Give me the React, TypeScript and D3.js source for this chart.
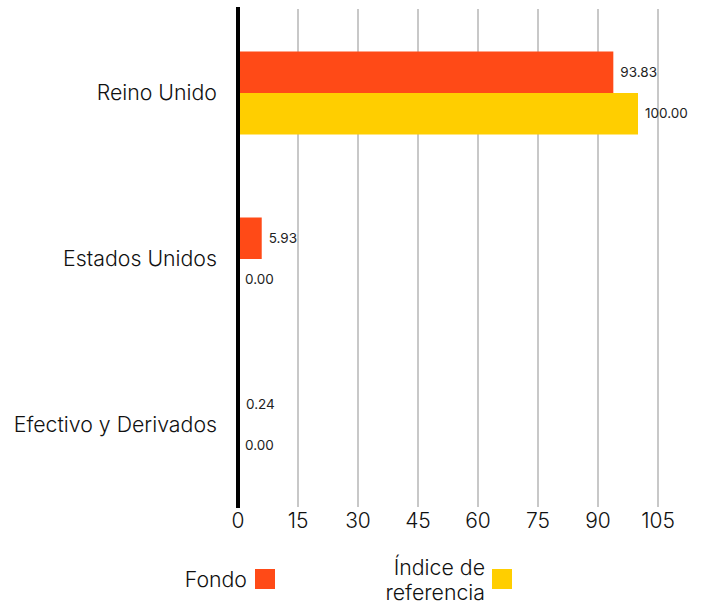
import * as d3 from 'd3';
import React from 'react';

// data
const categories = ['Reino Unido', 'Estados Unidos', 'Efectivo y Derivados'];
const fondo = [93.83, 5.93, 0.24];
const indice = [100.0, 0.0, 0.0];
const ticks = [0, 15, 30, 45, 60, 75, 90, 105];
const seriesNames = ['Fondo', 'Índice de referencia'];
const colors = ['#FF4A17', '#FFCE00'];

const FONT = 'Inter, "Noto Sans", sans-serif';

function App() {
  const width = 702;
  const height = 606;
  const left = 238;
  const top = 10;
  const bottom = 508;

  const x = d3.scaleLinear().domain([0, 105]).range([left, left + 420]);
  const y = d3.scaleBand<string>()
    .domain(categories)
    .range([top, bottom])
    .paddingInner(0.5)
    .paddingOuter(0.25);
  const sub = d3.scaleBand<number>()
    .domain([0, 1])
    .range([0, y.bandwidth()]);

  const series = [fondo, indice];

  return (
    <svg width={width} height={height} style={{ position: 'absolute', left: 0, top: 0 }}>
      {/* gridlines */}
      {ticks.slice(1).map(t => (
        <line key={t} x1={x(t)} x2={x(t)} y1={top - 1} y2={bottom - 1}
          stroke="#c8c8c8" strokeWidth={2} />
      ))}

      {/* bars */}
      {series.map((vals, si) => categories.map((c, ci) => (
        <rect key={`${si}-${ci}`}
          x={x(0)} y={(y(c) as number) + (sub(si) as number)}
          width={x(vals[ci]) - x(0)} height={sub.bandwidth()}
          fill={colors[si]} />
      )))}

      {/* value labels */}
      {series.map((vals, si) => categories.map((c, ci) => (
        <text key={`l-${si}-${ci}`}
          x={x(vals[ci]) + 7}
          y={(y(c) as number) + (sub(si) as number) + sub.bandwidth() / 2}
          dy="0.35em" fontSize={13.5} fontFamily={FONT} fill="#222">
          {vals[ci].toFixed(2)}
        </text>
      )))}

      {/* zero axis */}
      <line x1={x(0)} x2={x(0)} y1={top - 3} y2={bottom} stroke="#000" strokeWidth={4} />

      {/* category labels */}
      {categories.map(c => (
        <text key={c} x={217} y={(y(c) as number) + y.bandwidth() / 2}
          dy="0.35em" textAnchor="end" fontSize={21.3} fontFamily={FONT} fontWeight={300} fill="#111">
          {c}
        </text>
      ))}

      {/* x tick labels */}
      {ticks.map(t => (
        <text key={t} x={x(t)} y={521} dy="0.35em" textAnchor="middle"
          fontSize={21} fontFamily={FONT} fontWeight={300} fill="#111">
          {t}
        </text>
      ))}

      {/* legend */}
      <text x={247} y={580} dy="0.35em" textAnchor="end" fontSize={21.3} fontFamily={FONT} fontWeight={300} fill="#111">
        {seriesNames[0]}
      </text>
      <rect x={255} y={569} width={20} height={20} fill={colors[0]} />
      <text x={485} y={568} dy="0.35em" textAnchor="end" fontSize={21.3} fontFamily={FONT} fontWeight={300} fill="#111">
        Índice de
      </text>
      <text x={485} y={593} dy="0.35em" textAnchor="end" fontSize={21.3} fontFamily={FONT} fontWeight={300} fill="#111">
        referencia
      </text>
      <rect x={492} y={569} width={20} height={20} fill={colors[1]} />
    </svg>
  );
}

export default App;
